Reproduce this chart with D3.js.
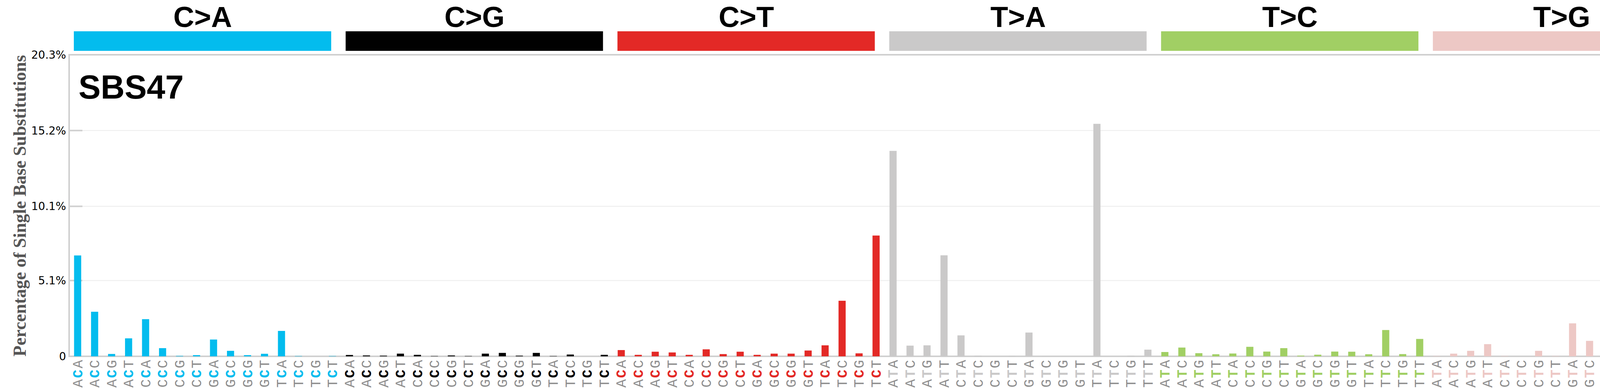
<!DOCTYPE html>
<html><head><meta charset="utf-8">
<script src="https://cdn.jsdelivr.net/npm/d3@7"></script>
<style>html,body{margin:0;padding:0;overflow:hidden;background:#fff}svg{display:block}</style></head>
<body><svg id="c" width="4393" height="992"></svg>
<script>
const mutationTypes = ["C>A","C>G","C>T","T>A","T>C","T>G"];
const groupColors = ["#03BCEE","#010101","#E32926","#CAC9C9","#A1CF64","#EDC8C5"];
const contexts = ["A_A","A_C","A_G","A_T","C_A","C_C","C_G","C_T","G_A","G_C","G_G","G_T","T_A","T_C","T_G","T_T"];
const valuesCA = [6.79,3.0,0.16,1.21,2.5,0.55,0.03,0.08,1.13,0.37,0.08,0.17,1.71,0.02,0,0.02];
const valuesCG = [0.09,0.06,0.045,0.18,0.1,0.02,0.06,0.02,0.18,0.23,0.045,0.23,0.02,0.12,0,0.1];
const valuesCT = [0.42,0.1,0.31,0.26,0.1,0.47,0.15,0.31,0.1,0.18,0.18,0.39,0.74,3.74,0.2,8.13];
const valuesTA = [13.83,0.72,0.74,6.8,1.41,0.05,0,0.02,1.6,0.01,0,0,15.65,0,0.05,0.45];
const valuesTC = [0.29,0.59,0.21,0.14,0.19,0.64,0.32,0.55,0.05,0.11,0.32,0.31,0.14,1.77,0.15,1.17];
const valuesTG = [0.02,0.18,0.37,0.82,0.02,0,0.37,0.02,2.22,1.04,2.76,8.94,0.23,0,0.15,0.37];
const yTicks = [0,5.1,10.1,15.2,20.3];
const yMax = 20.3;
const title = "SBS47";
const yTitle = "Percentage of Single Base Substitutions";

const allVals=[valuesCA,valuesCG,valuesCT,valuesTA,valuesTC,valuesTG];
const data=[];
mutationTypes.forEach((m,g)=>contexts.forEach((c,i)=>{
  data.push({key:m+c, g, left:c[0], mid:m[0], right:c[2], v:allVals[g][i]});
}));

const svg=d3.select("#c");
const L=177,R=4352,T=140,B=911;
const x=d3.scaleBand().domain(data.map(d=>d.key)).range([L,R]).paddingInner(0.58).paddingOuter(0.29);
const y=d3.scaleLinear().domain([0,yMax]).range([B,T]);
const step=x.step();

svg.append("g").selectAll("line").data(yTicks.slice(1,-1)).join("line")
  .attr("x1",L).attr("x2",R).attr("y1",d=>y(d)).attr("y2",d=>y(d))
  .attr("stroke","#ececec").attr("stroke-width",2);
svg.append("g").selectAll("line").data(yTicks).join("line")
  .attr("x1",L).attr("x2",L+34).attr("y1",d=>y(d)).attr("y2",d=>y(d)).attr("stroke","#d0d0d0").attr("stroke-width",4);
svg.append("g").selectAll("line").data(yTicks).join("line")
  .attr("x1",R-34).attr("x2",R).attr("y1",d=>y(d)).attr("y2",d=>y(d)).attr("stroke","#d0d0d0").attr("stroke-width",4);
svg.append("rect").attr("x",L).attr("y",T).attr("width",R-L).attr("height",B-T)
  .attr("fill","none").attr("stroke","#d0d0d0").attr("stroke-width",4);

svg.append("g").selectAll("text").data(yTicks).join("text")
  .attr("x",L-8).attr("y",d=>y(d)).attr("dy","0.36em").attr("text-anchor","end")
  .attr("font-family","DejaVu Sans").attr("font-size",28)
  .text(d=>d===0?"0":d.toFixed(1)+"%");

svg.append("g").selectAll("rect").data(data).join("rect")
  .attr("x",d=>x(d.key)).attr("width",x.bandwidth())
  .attr("y",d=>y(d.v)).attr("height",d=>B-y(d.v))
  .attr("fill",d=>groupColors[d.g]);

mutationTypes.forEach((m,g)=>{
  const gs=L+g*16*step;
  svg.append("rect").attr("x",gs+12).attr("y",80).attr("width",16*step-37).attr("height",50).attr("fill",groupColors[g]);
  svg.append("text").attr("x",gs+8*step-6).attr("y",69).attr("text-anchor","middle")
    .attr("font-family","Liberation Sans, Arial").attr("font-weight","bold").attr("font-size",74).text(m);
});

const lab=svg.append("g").selectAll("text").data(data).join("text")
  .attr("transform",d=>`translate(${x(d.key)+x.bandwidth()/2+12},991) rotate(-90)`)
  .attr("font-family","Liberation Mono, DejaVu Sans Mono").attr("font-size",36).attr("letter-spacing",3)
  .attr("fill","#8e8e8e");
lab.append("tspan").text(d=>d.left);
lab.append("tspan").attr("fill",d=>groupColors[d.g]).attr("font-weight","bold").text(d=>d.mid);
lab.append("tspan").text(d=>d.right);

svg.append("text").attr("x",201).attr("y",252).attr("font-family","Liberation Sans, Arial")
  .attr("font-weight","bold").attr("font-size",85).text(title);
svg.append("text").attr("transform",`translate(66,526) rotate(-90)`).attr("text-anchor","middle")
  .attr("font-family","Liberation Serif, Times New Roman").attr("font-weight","bold")
  .attr("font-size",46).attr("fill","#555").text(yTitle);
</script></body></html>
